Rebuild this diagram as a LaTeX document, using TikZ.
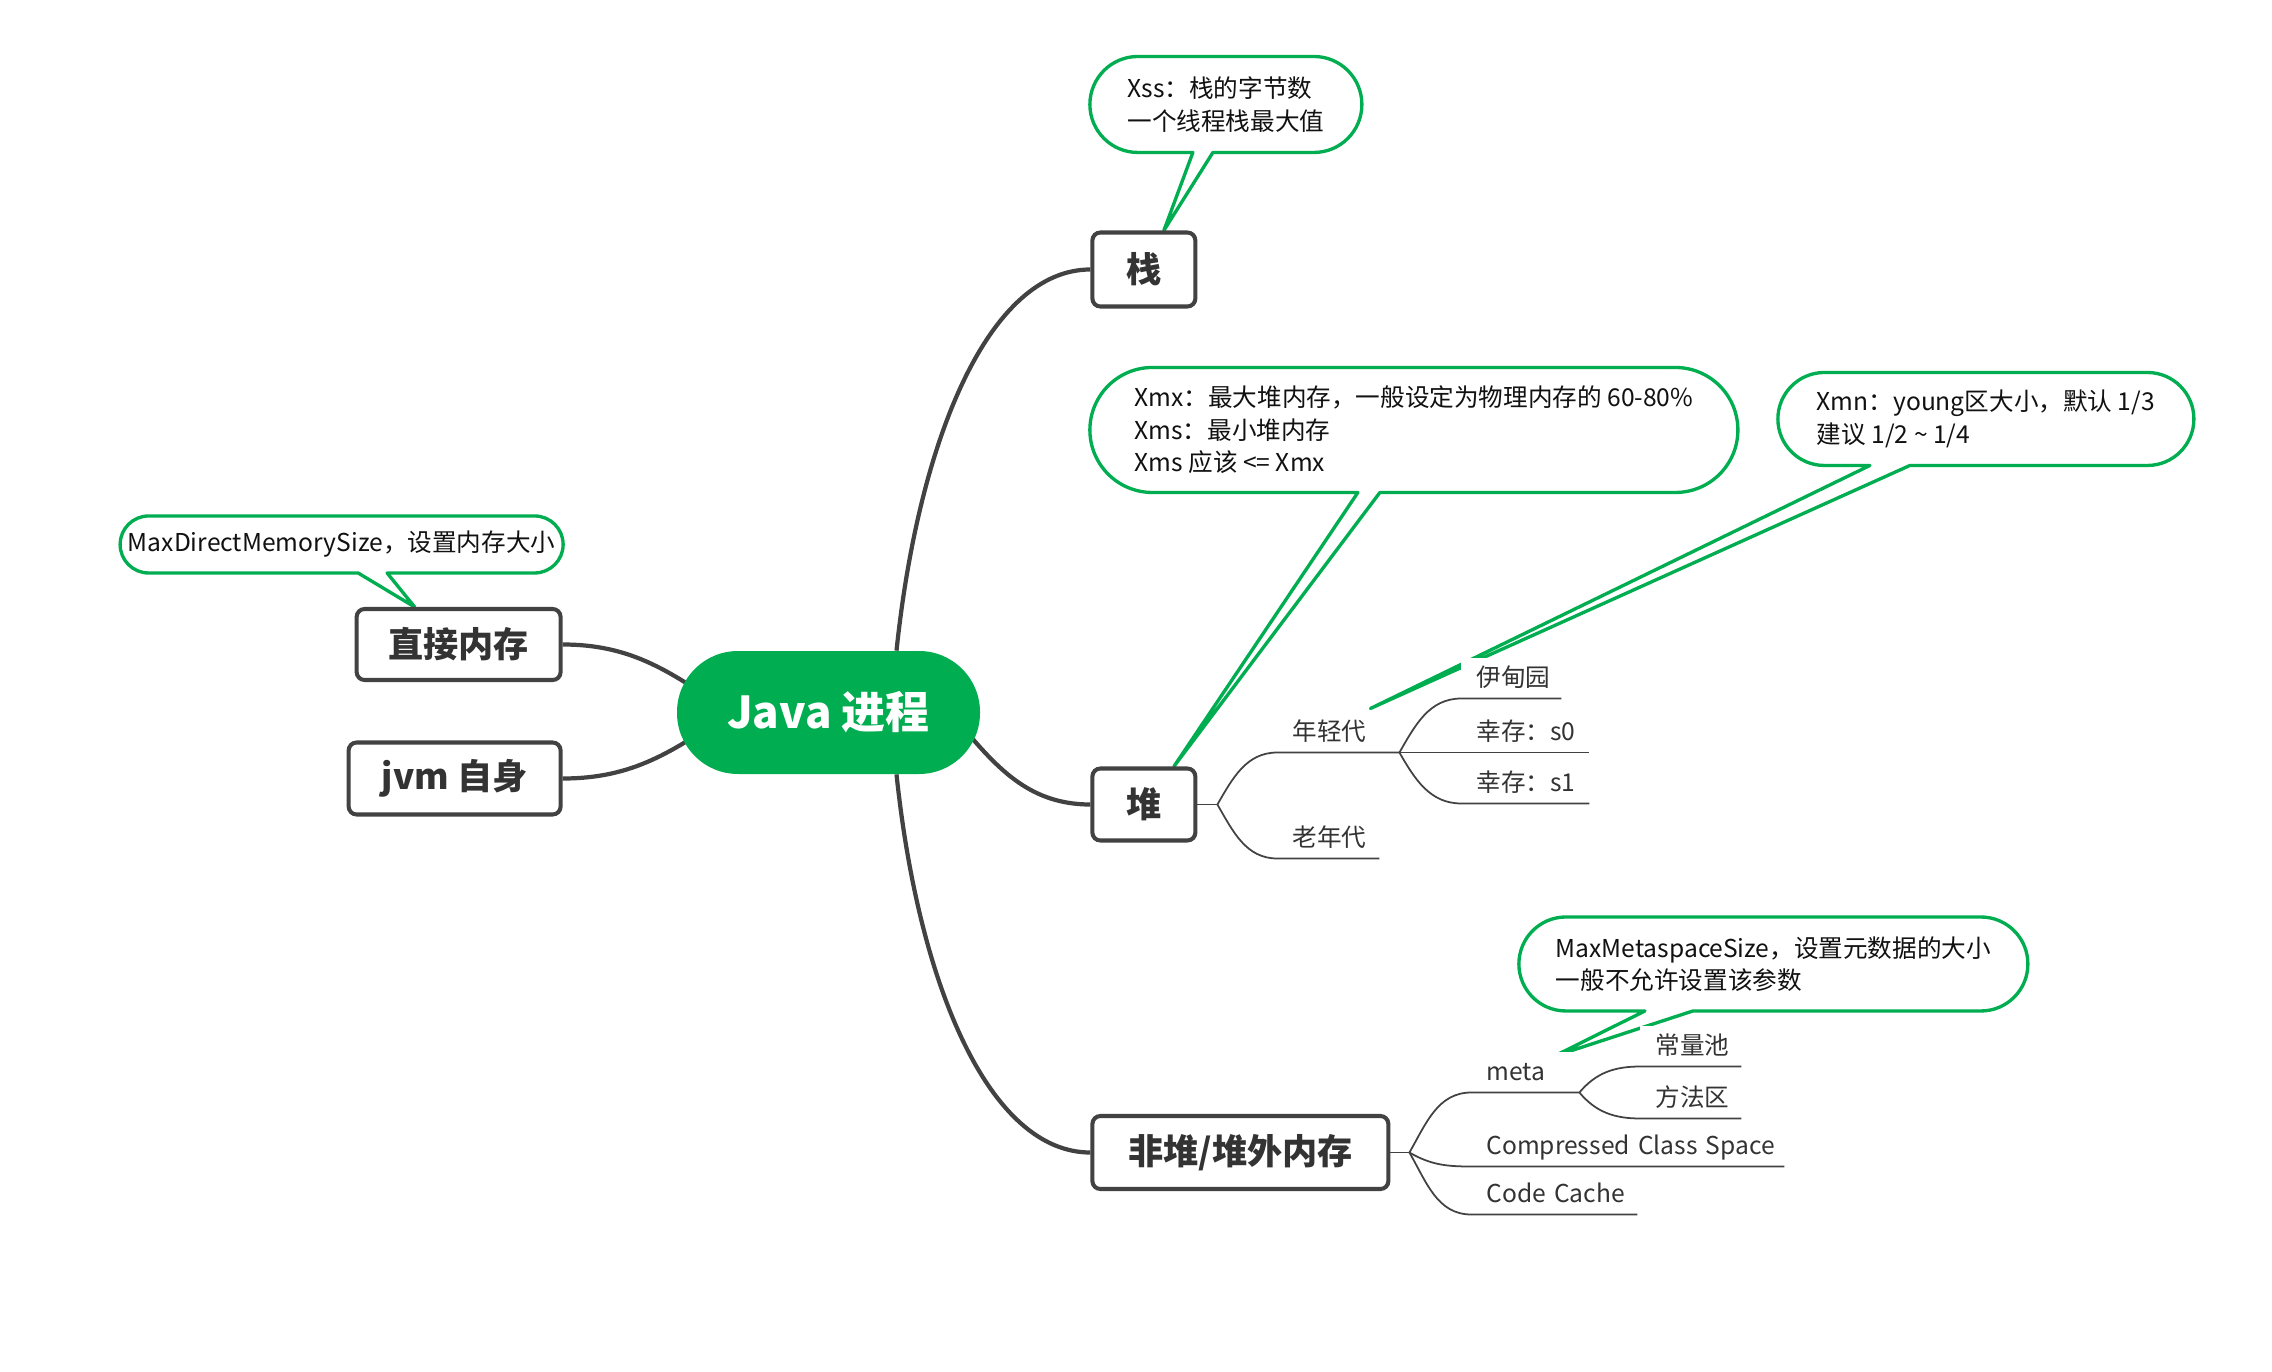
\documentclass[tikz,border=0pt]{standalone}
\usepackage{fontspec}
\setmainfont{Noto Sans CJK SC}
\usetikzlibrary{positioning,backgrounds,calc}
\definecolor{rootgreen}{RGB}{0,173,80}
\definecolor{notegreen}{RGB}{0,173,80}
\definecolor{linegray}{RGB}{66,66,66}
\definecolor{topicgray}{RGB}{51,51,51}
\definecolor{leafgray}{RGB}{51,51,51}
\definecolor{notetext}{RGB}{17,17,17}
\newlength{\unitpx}
\setlength{\unitpx}{0.2mm}
\newcommand{\rootfont}{\fontsize{25}{30}\selectfont\bfseries}
\newcommand{\topicfont}{\fontsize{20}{24}\selectfont\bfseries}
\newcommand{\memofont}{\fontsize{14}{18.5}\selectfont}
\newcommand{\leaffont}{\fontsize{14}{17}\selectfont}
\tikzset{
  bubble/.style n args={4}{
    insert path={
    let
    \p1=(#1.north),
    \p2=(#1.south),
    \n1={(\y1-\y2)/2}
      in
      ([xshift=#3\unitpx]#1.south west) -- ([xshift=-\n1]#1.south east)
      arc[start angle=-90,end angle=90,radius=\n1]
      -- ([xshift=\n1]#1.north west)
      arc[start angle=90,end angle=270,radius=\n1]
      -- ([xshift=#2\unitpx]#1.south west) -- (#4) -- cycle
    }
  },
  bubbleline/.style={draw=notegreen,line width=1.9pt,fill=white,line join=round},
  trunk/.style={draw=linegray,line width=2.4pt},
  twig/.style={draw=linegray,line width=1pt},
  roottopic/.style={fill=rootgreen,text=white,font=\rootfont,rounded corners=61\unitpx,
    minimum width=303\unitpx,minimum height=123\unitpx,inner sep=0pt},
  topic/.style args={#1,#2}{
  draw=linegray,
  line width=2.3pt,
  rounded corners=8\unitpx,
  fill=white,
  font=\topicfont,
  text=topicgray,
  inner sep=0pt,
  minimum width=#1\unitpx,
  minimum height=#2\unitpx
  },
  memo/.style args={#1,#2}{
  minimum width=#1\unitpx,
  minimum height=#2\unitpx,
  inner sep=0pt,
  outer sep=0pt,
  align=left,
  font=\memofont,
  text=notetext
  },
  subtopic/.style={anchor=south west,text width=#1\unitpx,align=left,
    inner xsep=15\unitpx,inner ysep=0pt,outer sep=0pt,
    text height=29\unitpx,text depth=12\unitpx,
    fill=white,font=\leaffont,text=leafgray}
}
\begin{document}
\begin{tikzpicture}[x=\unitpx,y=\unitpx]
  \useasboundingbox (0,0) rectangle (2272,-1372);

  % central topic and main branches
  \node[roottopic] (java) at (828.5,-712.5) {Java 进程};
  \node[topic={103,74},right=110\unitpx of java,yshift=443\unitpx] (zhan) {栈};
  \node[topic={103,72},right=110\unitpx of java,yshift=-92\unitpx] (dui) {堆};
  \node[topic={296,73},right=110\unitpx of java,yshift=-440\unitpx] (feidui) {非堆/堆外内存};
  \node[topic={204,71},left=114\unitpx of java,yshift=68\unitpx] (zhijie) {直接内存};
  \node[topic={212,72},left=114\unitpx of java,yshift=-66\unitpx] (jvm) {jvm 自身};

  % notes
  \node[memo={272,96},above=78\unitpx of zhan,xshift=82\unitpx] (xss)
    {Xss：栈的字节数\\一个线程栈最大值};
  \node[memo={648,125},above=274\unitpx of dui,xshift=270\unitpx] (xmx)
    {Xmx：最大堆内存，一般设定为物理内存的 60-80\%\\Xms：最小堆内存\\Xms 应该 <= Xmx};
  \node[memo={416,93},right=40\unitpx of xmx,yshift=11\unitpx] (xmn)
    {Xmn：young区大小，默认 1/3\\建议 1/2 \textasciitilde{} 1/4};
  \node[memo={509,94},above=103\unitpx of feidui,xshift=533\unitpx] (metanote)
    {MaxMetaspaceSize，设置元数据的大小\\一般不允许设置该参数};
  \node[memo={443,57},above=34\unitpx of zhijie,xshift=-117\unitpx] (direct)
    {MaxDirectMemorySize，设置内存大小};

  % heap
  \coordinate[right=20\unitpx of dui] (duifork);
  \node[subtopic=92] (nianqing) at ([xshift=60\unitpx,yshift=52\unitpx]duifork) {年轻代};
  \node[subtopic=72] (laonian) at ([xshift=60\unitpx,yshift=-54\unitpx]duifork) {老年代};
  \node[subtopic=70] (yidian) at ([xshift=62\unitpx,yshift=54\unitpx]nianqing.south east) {伊甸园};
  \node[subtopic=98] (s0) at ([xshift=62\unitpx]nianqing.south east) {幸存：s0};
  \node[subtopic=98] (s1) at ([xshift=62\unitpx,yshift=-51\unitpx]nianqing.south east) {幸存：s1};

  % non-heap
  \coordinate[right=19\unitpx of feidui] (feiduifork);
  \node[subtopic=78] (meta) at ([xshift=62\unitpx,yshift=60\unitpx]feiduifork) {meta};
  \node[subtopic=283] (ccs) at ([xshift=62\unitpx,yshift=-14\unitpx]feiduifork) {Compressed~Class~Space};
  \node[subtopic=136] (codecache) at ([xshift=62\unitpx,yshift=-62\unitpx]feiduifork) {Code~Cache};
  \node[subtopic=71] (changliang) at ([xshift=61\unitpx,yshift=26\unitpx]meta.south east) {常量池};
  \node[subtopic=71] (fangfa) at ([xshift=61\unitpx,yshift=-26\unitpx]meta.south east) {方法区};

  % where the notes point
  \coordinate (xsstip) at ([xshift=20\unitpx]zhan.north);
  \coordinate (xmxtip) at ([xshift=30\unitpx]dui.north);
  \coordinate (xmntip) at ([xshift=-29\unitpx,yshift=44\unitpx]nianqing.south east);
  \coordinate (metatip) at ([xshift=-26\unitpx,yshift=36\unitpx]meta.south east);
  \coordinate (directtip) at ([xshift=-44\unitpx]zhijie.north);

  \begin{scope}[on background layer]
    \draw[trunk] ([xshift=68\unitpx]java.north) to[out=84,in=180,out looseness=1.3,in looseness=0.6] (zhan.west);
    \draw[trunk] ([xshift=-30\unitpx]java.east) to[out=-50,in=180] (dui.west);
    \draw[trunk] ([xshift=68\unitpx]java.south) to[out=-84,in=180,out looseness=1.3,in looseness=0.6] (feidui.west);
    \draw[trunk] ([xshift=54\unitpx]java.west) to[out=146,in=0] (zhijie.east);
    \draw[trunk] ([xshift=54\unitpx]java.west) to[out=-146,in=0] (jvm.east);
    \foreach \cn/\ca/\cb/\ct in {xss/103/123/xsstip,xmx/268/290/xmxtip,xmn/92/132/xmntip,
        metanote/126/174/metatip,direct/238/267/directtip}
      \draw[bubbleline,bubble={\cn}{\ca}{\cb}{\ct}];
  \end{scope}

  \draw[twig] (dui.east) -- (duifork);
  \foreach \sub/\ang in {nianqing/60,laonian/-60}
    \draw[twig] (duifork) to[out=\ang,in=180] (\sub.south west) -- (\sub.south east);
  \foreach \sub/\ang in {yidian/60,s0/0,s1/-60}
    \draw[twig] (nianqing.south east) to[out=\ang,in=180] (\sub.south west) -- (\sub.south east);
  \draw[twig] (feidui.east) -- (feiduifork);
  \foreach \sub/\ang in {meta/60,ccs/-30,codecache/-60}
    \draw[twig] (feiduifork) to[out=\ang,in=180] (\sub.south west) -- (\sub.south east);
  \foreach \sub/\ang in {changliang/50,fangfa/-50}
    \draw[twig] (meta.south east) to[out=\ang,in=180] (\sub.south west) -- (\sub.south east);

\end{tikzpicture}
\end{document}
